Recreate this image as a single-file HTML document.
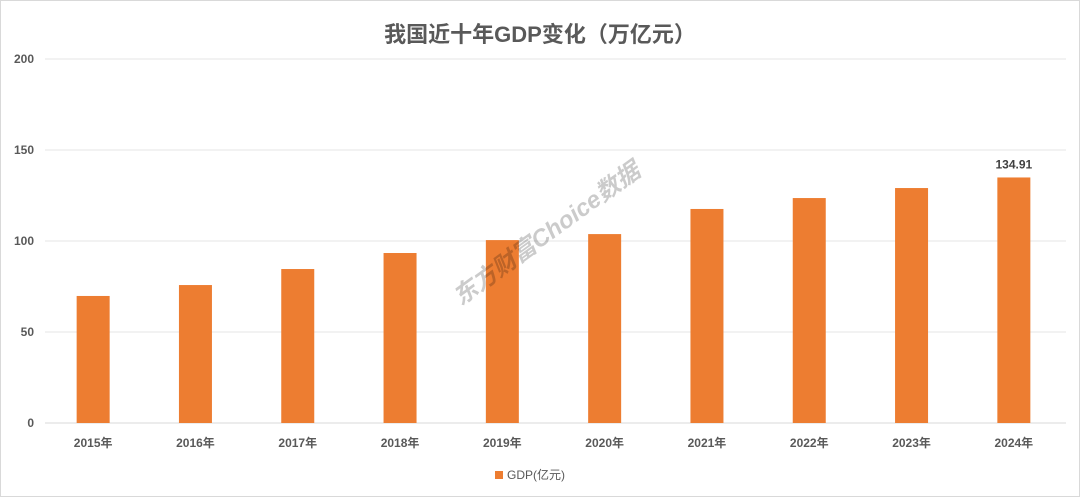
<!DOCTYPE html>
<html><head><meta charset="utf-8"><style>
html,body{margin:0;padding:0;background:#fff}
#wrap{position:relative;width:1078px;height:495px;border:1px solid #d9d9d9;overflow:hidden;font-family:"Liberation Sans","Noto Sans CJK SC",sans-serif}
svg text{font-family:"Liberation Sans","Noto Sans CJK SC",sans-serif}
</style></head><body>
<div id="wrap">
<svg id="chart" width="1078" height="495">
<text x="539" y="41" text-anchor="middle" font-size="22" font-weight="bold" fill="#595959">我国近十年GDP变化（万亿元）</text>
<g id="grid"></g><g id="bars"></g><g id="xlabels"></g>
<text x="0" y="9" transform="translate(545,232) rotate(-36)" text-anchor="middle" font-size="24" font-weight="bold" font-style="italic" fill="#000" opacity="0.2">东方财富Choice数据</text>
<rect x="494" y="470" width="8" height="8" fill="#ED7D31"></rect>
<text x="506" y="478" font-size="12" fill="#595959">GDP(亿元)</text>
</svg></div>
<script>
const categories=["2015年","2016年","2017年","2018年","2019年","2020年","2021年","2022年","2023年","2024年"];
const values=[69.8,75.8,84.6,93.4,100.5,103.8,117.6,123.6,129.1,134.91];
const ticks=[0,50,100,150,200];
const NS="http://www.w3.org/2000/svg";
const y0=422,yTop=58,ymax=200,x0=42,x1=1065;
const yS=v=>y0-(v/ymax)*(y0-yTop);
const step=(x1-x0)/categories.length;
const xC=i=>x0+step*(i+0.5)-1;
function mk(t,a,p){const e=document.createElementNS(NS,t);for(const k in a)e.setAttribute(k,a[k]);p.appendChild(e);return e;}
const grid=document.getElementById('grid'),bars=document.getElementById('bars'),xl=document.getElementById('xlabels');
ticks.forEach(t=>{
 const l=mk('line',{x1:44,x2:x1,y1:yS(t),y2:yS(t),stroke:t===0?'#d9d9d9':'#e6e6e6','stroke-width':1},grid);
 
 
 const tx=mk('text',{x:33,y:yS(t)+4,'text-anchor':'end','font-size':12,'font-weight':'bold',fill:'#595959'},grid);
 tx.textContent=t;
 
 
});
const bw=33;
values.forEach((v,i)=>{
 const r=mk('rect',{x:xC(i)-bw/2,y:yS(v),width:bw,height:y0-yS(v),fill:'#ED7D31'},bars);
 
 
 const t=mk('text',{x:xC(i),y:446,'text-anchor':'middle','font-size':12,'font-weight':'bold',fill:'#595959'},xl);
 t.textContent=categories[i];
 
 
});
const last=values.length-1;
const dl=mk('text',{x:xC(last),y:yS(values[last])-9,'text-anchor':'middle','font-size':12,'font-weight':'bold',fill:'#404040'},bars);
dl.textContent=values[last].toFixed(2);


</script>
</body></html>
